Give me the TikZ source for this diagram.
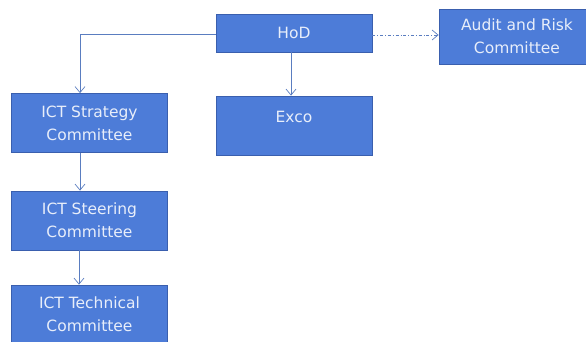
\documentclass[tikz,border=0pt]{standalone}
\usepackage{fontspec}
\setmainfont{DejaVu Sans}
\usepackage{tikz}
\usetikzlibrary{arrows.meta}

\definecolor{boxfill}{HTML}{4D7CD8}
\definecolor{boxline}{HTML}{3A5FAE}
\definecolor{linkcol}{HTML}{5A7DC0}
\definecolor{textcol}{HTML}{E8EEFA}

\tikzset{
  unit/.style={draw=boxline, fill=boxfill, line width=0.8pt, text=textcol,
    minimum width=156pt, minimum height=59pt, align=center,
    font=\fontsize{15.5}{23}\selectfont, inner sep=0pt},
  link/.style={draw=linkcol, line width=0.7pt,
    -{Straight Barb[length=6pt,width=10pt]}}
}

\begin{document}
\begin{tikzpicture}[x=1pt,y=-1pt]
    \useasboundingbox (0,0) rectangle (586,342);
    \clip (0,0) rectangle (586,342);

    \coordinate (hod) at (294,33);
    \coordinate (audit) at (517,36.5);
    \coordinate (exco) at (294,125.5);
    \coordinate (strat) at (89.5,123);
    \coordinate (steer) at (89.5,220.5);
    \coordinate (tech) at (89.5,314.5);

    \node (HoD) [unit, minimum height=38pt] at (hod) {HoD};
    \node (Audit) [unit, minimum height=55pt] at (audit) {Audit and Risk\\Committee};
    \node (Exco) [unit, text depth=18pt] at (exco) {Exco};
    \node (Strat) [unit] at (strat) {ICT Strategy\\Committee};
    \node (Steer) [unit] at (steer) {ICT Steering\\Committee};
    \node (Tech) [unit] at (tech) {ICT Technical\\Committee};

    \coordinate (bend) at (80,34);

    \draw[link] (HoD.west |- bend) -- (bend) -- (bend |- Strat.north);
    \draw[link] (291,0 |- HoD.south) -- (291,0 |- Exco.north);
    \draw[link, dash dot] (HoD.east |- 0,35) -- (Audit.west |- 0,35);
    \draw[link] (80,0 |- Strat.south) -- (80,0 |- Steer.north);
    \draw[link] (79,0 |- Steer.south) -- (79,0 |- Tech.north);

  \end{tikzpicture}
\end{document}
